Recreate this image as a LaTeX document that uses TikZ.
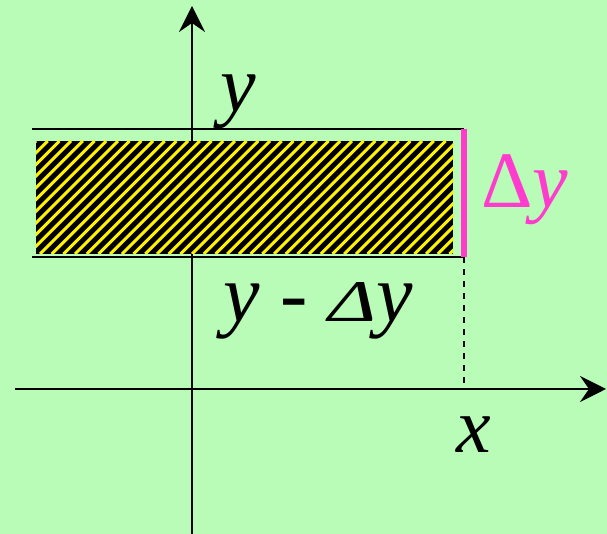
\documentclass[tikz,border=0pt]{standalone}
\usepackage{fontspec}
\setmainfont{Liberation Serif}
\usetikzlibrary{arrows.meta}

\definecolor{bggreen}{RGB}{184,252,184}
\definecolor{barpink}{RGB}{255,60,205}

\tikzset{
  axis/.style={line width=1pt, -{Stealth[length=13pt, width=13pt, inset=4.5pt]}},
  edge/.style={line width=1pt},
  hatchline/.style={yellow, line width=1.5pt},
  biglabel/.style={anchor=base, inner sep=0pt, font=\fontsize{40}{40}\selectfont\itshape},
}

\begin{document}
\begin{tikzpicture}[x=0.5pt, y=-0.5pt]
    % Background
    \fill[bggreen] (0,0) rectangle (607,534);
    \useasboundingbox (0,0) rectangle (607,534);

    % Axis end points
    \coordinate (xstart) at (15,389);
    \coordinate (xend) at (606,389);
    \coordinate (ystart) at (192,534);
    \coordinate (yend) at (192,6);

    % Strip edges
    \coordinate (topl) at (32,129);
    \coordinate (topr) at (464,129);
    \coordinate (botl) at (32,257);
    \coordinate (botr) at (464,257);
    \coordinate (xfoot) at (464,389);

    % Axes
    \draw[axis] (xstart) -- (xend);
    \draw[axis] (ystart) -- (yend);

    % Hatched strip (yellow stripes on black), drawn over the y axis
    \fill[black] (36,141) rectangle (453,254);
    \begin{scope}
        \clip (36,141) rectangle (453,254);
        \foreach \k in {0,...,46} {
            \draw[hatchline] ({-77+11.7*\k},254) -- ++(113,-113);
        }
    \end{scope}

    % Upper and lower edges of the strip
    \draw[edge] (topl) -- (topr);
    \draw[edge] (botl) -- (botr);

    % Dashed drop to the x axis
    \draw[edge, dash pattern=on 3pt off 3pt] (botr) -- (xfoot);

    % Pink bar showing the width
    \draw[barpink, line width=3pt] (topr) -- (botr);

    % Labels
    \node[biglabel] (ylab) at (238,112) {y};
    \node[biglabel, barpink, font=\fontsize{40}{40}\selectfont] (dylab) at (525,208) {Δ\textit{y}};
    \node[biglabel, font=\fontsize{41}{41}\selectfont\itshape] (ydlab) at (318,322) {y - \scalebox{1}[0.72]{Δ}y};
    \node[biglabel, font=\fontsize{39}{39}\selectfont\itshape] (xlab) at (474,453) {x};
\end{tikzpicture}
\end{document}
